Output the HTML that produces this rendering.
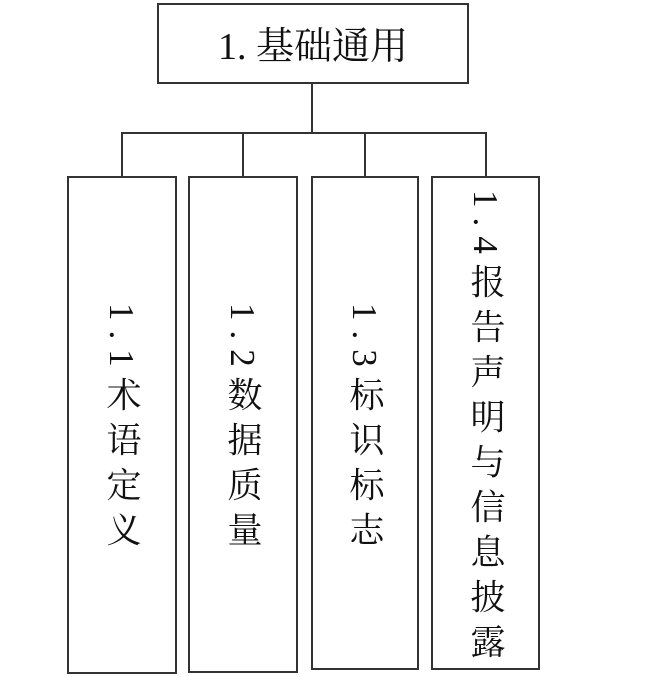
<!DOCTYPE html>
<html><head><meta charset="utf-8"><style>
body{margin:0;width:647px;height:677px;background:#fff;position:relative;overflow:hidden;font-family:"Liberation Serif","Noto Serif CJK SC",serif;color:#111}
.b{position:absolute;border:2px solid #333;box-sizing:border-box}
.l{position:absolute;background:#333}
.v{position:absolute;writing-mode:vertical-rl;text-orientation:mixed;font-size:35px;line-height:35px;letter-spacing:10px;white-space:nowrap}
</style></head><body>
<div class="b" style="left:157px;top:3px;width:312px;height:81px"></div>
<div style="position:absolute;left:157px;top:3px;width:312px;height:81px;display:flex;align-items:center;justify-content:center;font-size:38px;padding-bottom:2px;box-sizing:border-box">1. 基础通用</div>
<div class="l" style="left:311px;top:83px;width:2px;height:51px"></div>
<div class="l" style="left:121px;top:132px;width:366px;height:2px"></div>
<div class="l" style="left:121px;top:132px;width:2px;height:45px"></div>
<div class="l" style="left:242px;top:132px;width:2px;height:45px"></div>
<div class="l" style="left:364px;top:132px;width:2px;height:45px"></div>
<div class="l" style="left:485px;top:132px;width:2px;height:45px"></div>
<div class="b" style="left:67px;top:176px;width:110px;height:498px"></div>
<div class="b" style="left:188px;top:176px;width:110px;height:497px"></div>
<div class="b" style="left:311px;top:176px;width:108px;height:494px"></div>
<div class="b" style="left:431px;top:176px;width:109px;height:494px"></div>
<div class="v" style="left:104px;top:303px">1.1术语定义</div>
<div class="v" style="left:225px;top:303px">1.2数据质量</div>
<div class="v" style="left:347px;top:303px">1.3标识标志</div>
<div class="v" style="left:468px;top:190px">1.4报告声明与信息披露</div>
</body></html>
